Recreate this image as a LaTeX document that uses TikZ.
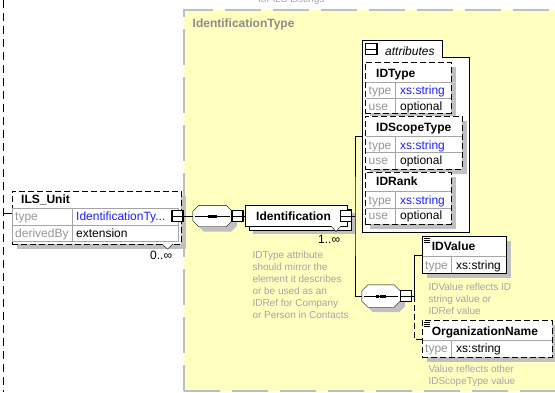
\documentclass[tikz,border=0pt]{standalone}
\usepackage{fontspec}
\setmainfont{Liberation Sans}
\usetikzlibrary{shadows}

\definecolor{typebg}{RGB}{255,255,192}
\definecolor{typeborder}{RGB}{190,190,190}
\definecolor{shadowgray}{RGB}{192,192,192}
\definecolor{labelgray}{RGB}{150,150,150}
\definecolor{titlegray}{RGB}{140,140,140}
\definecolor{notegray}{RGB}{165,165,165}
\definecolor{rowgray}{RGB}{165,165,165}
\definecolor{typeblue}{RGB}{30,30,255}

\begin{document}
\begin{tikzpicture}[x=1pt,y=-1pt,
		font=\fontsize{12}{14}\selectfont,
		txt/.style={anchor=base west, inner sep=0pt},
		keytxt/.style={txt, text=labelgray},
		valtxt/.style={txt, text=typeblue},
		titletxt/.style={txt, font=\fontsize{12}{14}\selectfont\bfseries},
		notetxt/.style={anchor=north west, inner sep=0pt, align=left, text=notegray, font=\fontsize{10}{12}\selectfont},
		boxshadow/.style={drop shadow={shadow xshift=5pt, shadow yshift=-5pt, fill=shadowgray, opacity=1}},
		elbox/.style={draw, fill=white, anchor=north west, inner sep=0pt, boxshadow},
		multibox/.style={draw, fill=white, anchor=north west, inner sep=0pt,
			drop shadow={shadow xshift=8pt, shadow yshift=-8pt, fill=shadowgray, opacity=1},
			copy shadow={shadow xshift=4pt, shadow yshift=-4pt, draw=black, fill=white}},
		optdash/.style={dash pattern=on 6pt off 3pt},
		rowbox/.style={draw=rowgray},
		pmbox/.style={draw, line width=1.3pt, fill=white, minimum size=11pt, inner sep=0pt,
			path picture={\draw[line width=1pt] (path picture bounding box.west) -- (path picture bounding box.east);}},
		seqbox/.style={minimum width=39pt, minimum height=21pt, inner sep=0pt},
	]
	\useasboundingbox (0,0) rectangle (555,392);

	% parent content line
	\draw[dash pattern=on 8pt off 5pt] (3,0) -- (3,392);
	\coordinate (parent) at (3,213.5);

	% complex type area
	\node (typebox) [draw=typeborder, fill=typebg, line width=1.5pt, dash pattern=on 36pt off 12pt,
		anchor=north west, inner sep=0pt, minimum width=400pt, minimum height=381pt] at (183,9) {};
	\node[txt, text=notegray, font=\fontsize{10}{12}\selectfont] at (258,2) {for ILS Listings};
	\node[titletxt, text=titlegray] at (192.5,27.5) {IdentificationType};

	% ILS_Unit
	\node (unit) [elbox, optdash, minimum width=169pt, minimum height=53pt] at (12,191) {};
	\node[titletxt] at (21,203.5) {ILS\_Unit};
	\draw[rowbox] (12.5,208) rectangle (178,225) (12.5,225) rectangle (178,241.5) (72,208) -- (72,241.5);
	\node[keytxt] at (15,220.7) {type};
	\node[valtxt] at (76,220.7) {IdentificationTy...};
	\node[keytxt] at (15,237.8) {derivedBy};
	\node[txt] at (76,237.8) {extension};
	\node (unitsq) [pmbox] at (177.5,216) {};
	\draw[fill=white] (162,244) -- (167.5,249) -- (173,244);
	\node[txt] at (150,259.3) {0..∞};
	\draw (parent) -- (parent -| unit.west);

	% sequence compositors
	\node (seq1) [seqbox] at (212.5,216) {};
	\node (seq2) [seqbox, minimum width=38pt, minimum height=22pt] at (381,296) {};
	\foreach \s in {seq1,seq2} {
		\draw[fill=white, boxshadow] ([xshift=6pt]\s.north west) -- ([xshift=-6pt]\s.north east)
			-- ([yshift=-6pt]\s.north east) -- ([yshift=6pt]\s.south east) -- ([xshift=-6pt]\s.south east)
			-- ([xshift=6pt]\s.south west) -- ([yshift=6pt]\s.south west) -- ([yshift=-6pt]\s.north west) -- cycle;
		\draw ([xshift=2pt]\s.west) -- ([xshift=-2pt]\s.east);
		\foreach \dx in {-3.3pt,0pt,3.3pt}
			\fill ([xshift=\dx]\s.center) +(-1.5pt,-1.5pt) rectangle +(1.5pt,1.5pt);
	}
	\node (seq1sq) [pmbox] at (237.5,216) {};
	\node (seq2sq) [pmbox] at (406,296) {};
	\draw (unitsq.east) -- (seq1.west);

	% Identification
	\node (ident) [multibox, minimum width=102pt, minimum height=21pt] at (245,205) {};
	\node[titletxt] at (256,220.7) {Identification};
	\node (identsq) [pmbox] at (345.8,216) {};
	\draw[fill=white] (331,226) -- (336,231.5) -- (341,226);
	\node[txt] at (318,243.3) {1..∞};
	\draw (seq1sq.east) -- (seq1sq.east -| ident.west);

	\node[notetxt] at (252.3,251.2) {IDType attribute\\should mirror the\\element it describes\\or be used as an\\IDRef for Company\\or Person in Contacts};

	% attributes
	\node (attrs) [anchor=north west, inner sep=0pt, minimum width=107pt, minimum height=192pt] at (362,40) {};
	\draw[fill=white] (attrs.south west) -- (attrs.north west) -- ++(80,0) -- ++(0,17) -| (attrs.south east) -- cycle;
	\node (attrtab) [pmbox, minimum size=11.5pt] at (371.2,49) {};
	\node[txt, font=\fontsize{12}{14}\selectfont\itshape] at (385,55) {attributes};

	\node (attridtype) [elbox, optdash, minimum width=86pt, minimum height=51pt] at (365,62) {};
	\draw[rowbox] (365.5,82) -- (450.5,82) (365.5,98) -- (450.5,98) (395,82) -- (395,112.5);
	\node[titletxt] at (376,77.5) {IDType};
	\node[keytxt] at (368.5,94.3) {type};
	\node[valtxt] at (400,94.3) {xs:string};
	\node[keytxt] at (368.5,110) {use};
	\node[txt] at (400,110) {optional};

	\node (attrscope) [elbox, optdash, minimum width=97pt, minimum height=53pt] at (365,116) {};
	\draw[rowbox] (365.5,136) -- (461.5,136) (365.5,152.5) -- (461.5,152.5) (395,136) -- (395,168.5);
	\node[titletxt] at (376,131) {IDScopeType};
	\node[keytxt] at (368.5,149) {type};
	\node[valtxt] at (400,149) {xs:string};
	\node[keytxt] at (368.5,164.3) {use};
	\node[txt] at (400,164.3) {optional};

	\node (attrrank) [elbox, optdash, minimum width=86pt, minimum height=52pt] at (365,172) {};
	\draw[rowbox] (365.5,191.5) -- (450.5,191.5) (365.5,208) -- (450.5,208) (395,191.5) -- (395,223.5);
	\node[titletxt] at (376,185.7) {IDRank};
	\node[keytxt] at (368.5,204) {type};
	\node[valtxt] at (400,204) {xs:string};
	\node[keytxt] at (368.5,219.3) {use};
	\node[txt] at (400,219.3) {optional};

	% content of Identification
	\coordinate (trunk1) at (355,216);
	\draw (identsq.east) -- (trunk1);
	\draw (attrs.west) -| (trunk1) |- (seq2.west);

	% IDValue
	\node (idvalue) [elbox, minimum width=84pt, minimum height=37pt] at (422,236) {};
	\draw[rowbox] (422.5,256) -- (505.5,256) (451,256) -- (451,272.5);
	\draw (424,238) -- ++(6,0) (424,240) -- ++(6,0) (424,242) -- ++(6,0);
	\node[titletxt] at (431.7,250.7) {IDValue};
	\node[keytxt] at (425,269) {type};
	\node[txt] at (456,269) {xs:string};
	\node[notetxt] at (428.3,283.2) {IDValue reflects ID\\string value or\\IDRef value};

	% OrganizationName
	\node (orgname) [elbox, optdash, minimum width=130pt, minimum height=37pt] at (422,320) {};
	\draw[rowbox] (422.5,340) -- (551.5,340) (451,340) -- (451,356.5);
	\draw (424,322) -- ++(6,0) (424,324) -- ++(6,0) (424,326) -- ++(6,0);
	\node[titletxt] at (431.7,335) {OrganizationName};
	\node[keytxt] at (425,352.3) {type};
	\node[txt] at (456,352.3) {xs:string};
	\node[notetxt] at (428.3,365.4) {Value reflects other\\IDScopeType value};

	\coordinate (trunk2) at (414,296);
	\draw (seq2sq.east) -- (trunk2) |- (idvalue.west);
	\draw[optdash] (trunk2) |- (orgname.west);

\end{tikzpicture}
\end{document}
